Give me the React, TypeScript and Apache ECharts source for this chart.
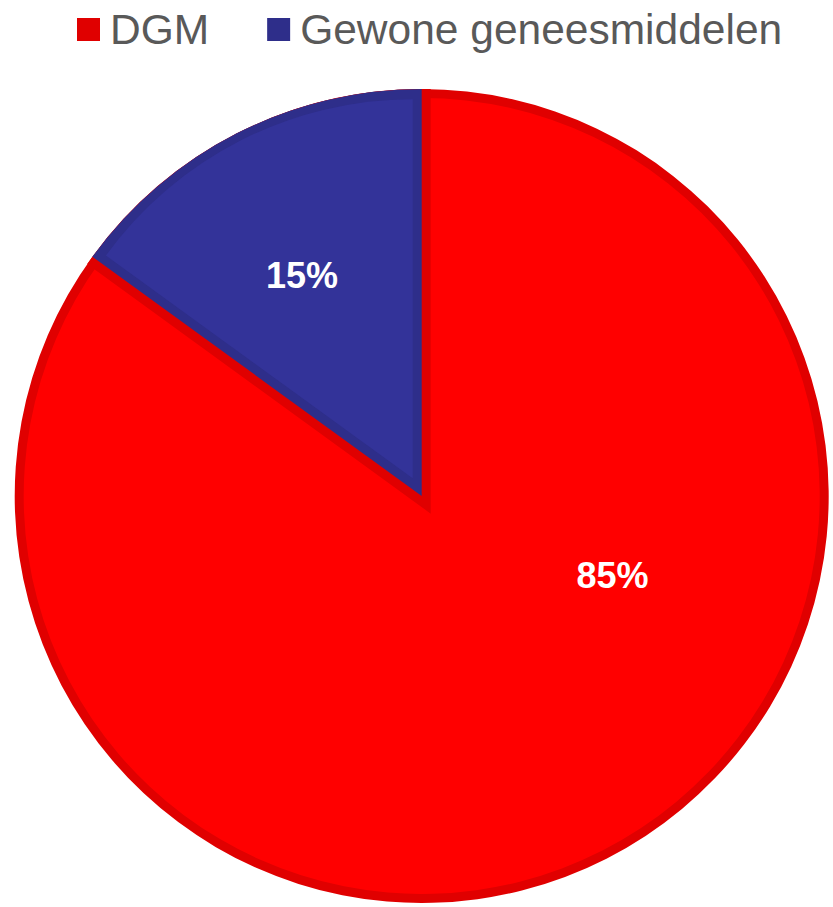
import { useEffect, useRef } from "react";
import * as echarts from "echarts";

const categories = ["DGM", "Gewone geneesmiddelen"];
const values = [85, 15];
const brightColors = ["#FF0000", "#333399"];
const darkColors = ["#E00000", "#2E2E8A"];

const CLEAR = "rgba(0,0,0,0)";

export default function App() {
  const ref = useRef<HTMLDivElement>(null);
  useEffect(() => {
    document.body.style.margin = "0";
    const chart = echarts.init(ref.current!, null, { renderer: "svg" });
    const cx = 421.7;
    const cy = 496;
    const R = 407;
    const band = 9;
    const total = values.reduce((a, b) => a + b, 0);
    const sweep = (360 * values[1]) / total;
    const bis = ((90 - (360 * values[0]) / total - sweep / 2) * Math.PI) / 180;
    const s = band / Math.sin(((sweep / 2) * Math.PI) / 180);
    const scx = cx + s * Math.cos(bis);
    const scy = cy - s * Math.sin(bis);

    const base = {
      type: "pie",
      startAngle: 90,
      clockwise: true,
      silent: true,
      label: { show: false },
      labelLine: { show: false },
      emphasis: { disabled: true },
      avoidLabelOverlap: false,
    };
    const mk = (styles: any[]) =>
      categories.map((name, i) => ({ name, value: values[i], itemStyle: styles[i] }));

    const labelOffsets = [
      [97, -104],
      [-26, -37],
    ];

    chart.setOption({
      animation: false,
      legend: {
        data: categories,
        top: 3,
        left: 72,
        icon: "rect",
        itemWidth: 23,
        itemHeight: 23,
        itemGap: 58,
        selectedMode: false,
        textStyle: {
          fontSize: 42.5,
          color: "#595959",
          fontFamily: "Liberation Sans, Arial, sans-serif",
          padding: [0, 0, 0, 5],
        },
      },
      series: [
        {
          ...base,
          name: "base",
          center: [cx, cy],
          radius: R,
          data: mk(darkColors.map((c) => ({ color: c }))),
        },
        {
          ...base,
          name: "red",
          center: [cx, cy],
          radius: R - band,
          data: mk([{ color: brightColors[0] }, { color: CLEAR }]),
        },
        {
          ...base,
          name: "redEdge",
          center: [cx, cy],
          radius: R - band,
          data: mk([
            { color: CLEAR },
            { color: CLEAR, borderColor: darkColors[0], borderWidth: band * 2, borderJoin: "miter" },
          ]),
        },
        {
          ...base,
          name: "blueBase",
          center: [cx, cy],
          radius: R,
          data: mk([{ color: CLEAR }, { color: darkColors[1] }]),
        },
        {
          ...base,
          name: "blue",
          center: [scx, scy],
          radius: R - band - s + 1,
          data: mk([{ color: CLEAR }, { color: brightColors[1] }]),
        },
        {
          ...base,
          name: "labels",
          center: [cx, cy],
          radius: R,
          data: mk([{ color: CLEAR }, { color: CLEAR }]),
          label: {
            show: true,
            position: "inside",
            formatter: "{c}%",
            color: "#FFFFFF",
            fontSize: 36,
            fontWeight: "bold",
            fontFamily: "Liberation Sans, Arial, sans-serif",
          },
          labelLayout: (p: any) => ({
            dx: labelOffsets[p.dataIndex][0],
            dy: labelOffsets[p.dataIndex][1],
          }),
        },
      ],
    });
    return () => chart.dispose();
  }, []);
  return <div ref={ref} style={{ width: 833, height: 907 }} />;
}
